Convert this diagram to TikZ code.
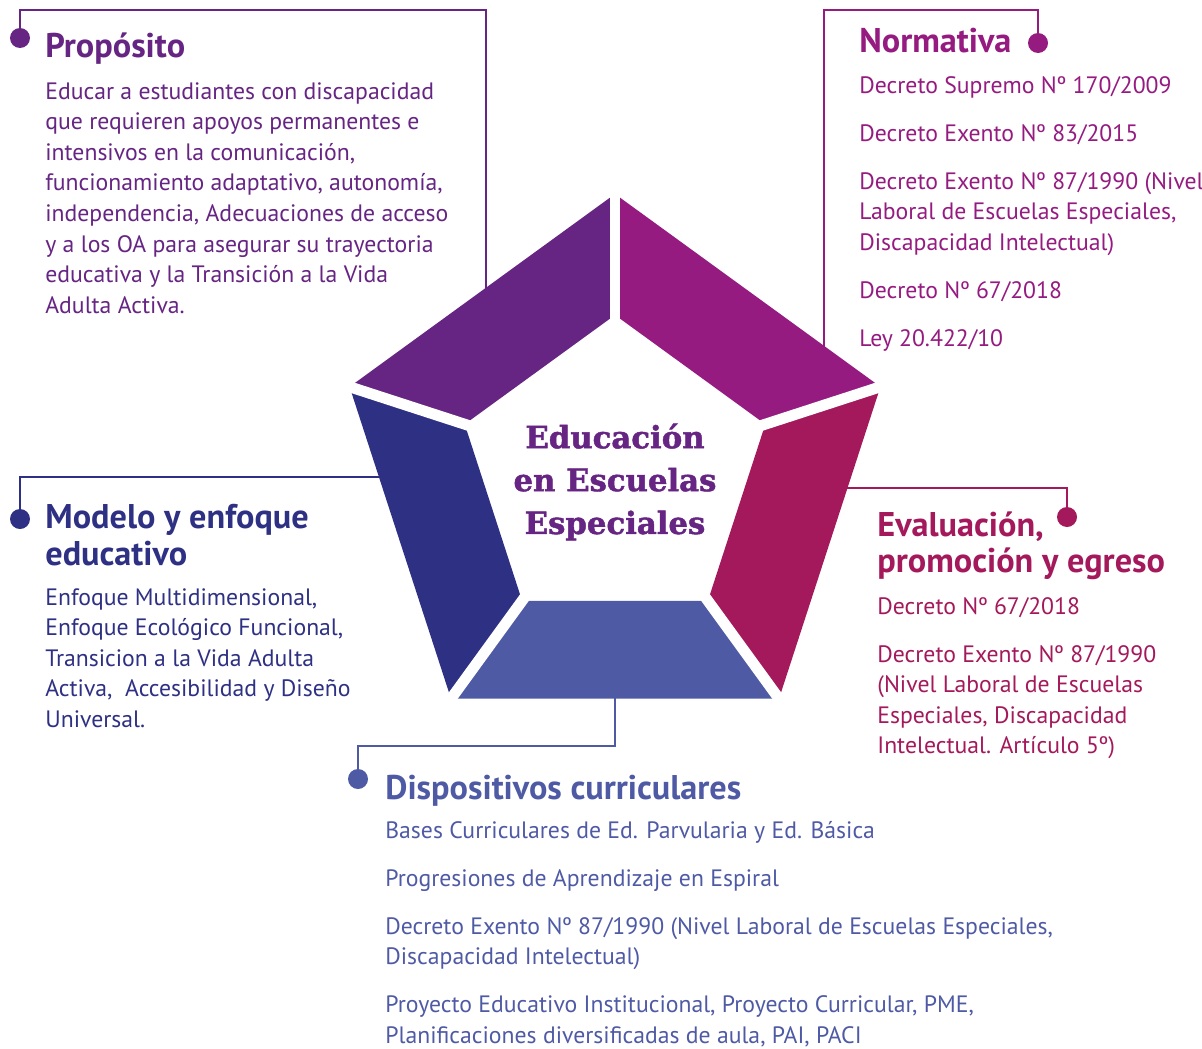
\documentclass[tikz,border=0pt]{standalone}
\usepackage{fontspec}
\setmainfont{PT Sans}
\newfontfamily\slab[FakeBold=1.5]{DejaVu Serif Bold}
\usetikzlibrary{calc}
\definecolor{cPro}{RGB}{102,36,131}
\definecolor{cNor}{RGB}{149,27,129}
\definecolor{cEva}{RGB}{163,25,91}
\definecolor{cMod}{RGB}{46,48,131}
\definecolor{cDis}{RGB}{79,90,165}
\begin{document}
\begin{tikzpicture}[x=0.02cm,y=-0.02cm,
  head/.style={font=\fontsize{19.5}{20.8}\selectfont\bfseries, anchor=north west, inner sep=0pt, align=left},
  body/.style={font=\fontsize{13.5}{17.4}\selectfont, anchor=north west, inner sep=0pt, align=left},
  conn/.style={line width=1.4pt},
  dotn/.style={circle, inner sep=0pt, minimum size=0.4cm},
  gap/.style={white, line width=6.2pt}]
\useasboundingbox (0,0) rectangle (1202,1048);
% pentagon vertices
\coordinate (O0) at (615,194);
\coordinate (O1) at (880.4,386.8);
\coordinate (O2) at (779.0,698.7);
\coordinate (O3) at (451.0,698.7);
\coordinate (O4) at (349.6,386.8);
\coordinate (I0) at (615,315);
\coordinate (I1) at (765.3,424.2);
\coordinate (I2) at (707.9,600.8);
\coordinate (I3) at (522.1,600.8);
\coordinate (I4) at (464.7,424.2);
% dots
\node[dotn, fill=cPro] (dPro) at (20,38) {};
\node[dotn, fill=cNor] (dNor) at (1038,43) {};
\node[dotn, fill=cMod] (dMod) at (20,519) {};
\node[dotn, fill=cEva] (dEva) at (1067,517) {};
\node[dotn, fill=cDis] (dDis) at (358,779) {};
\coordinate (ePro) at (486,300);
\coordinate (eNor) at (824,360);
\coordinate (eMod) at (395,477);
\coordinate (eEva) at (835,488);
\coordinate (eDis) at (615,690);
% connectors
\draw[conn, cPro] (dPro.center) |- (486,10) -- (ePro);
\draw[conn, cNor] (dNor.center) |- (824,10) -- (eNor);
\draw[conn, cMod] (dMod.center) |- (eMod);
\draw[conn, cEva] (dEva.center) |- (eEva);
\draw[conn, cDis] (dDis.center) |- (615,746) -- (eDis);
% pieces
\fill[cPro] (O4) -- (O0) -- (I0) -- (I4) -- cycle;
\fill[cNor] (O0) -- (O1) -- (I1) -- (I0) -- cycle;
\fill[cEva] (O1) -- (O2) -- (I2) -- (I1) -- cycle;
\fill[cDis] (O2) -- (O3) -- (I3) -- (I2) -- cycle;
\fill[cMod] (O3) -- (O4) -- (I4) -- (I3) -- cycle;
\foreach \i in {0,...,4}{
  \draw[gap] ($(I\i)!-0.2!(O\i)$) -- ($(I\i)!1.15!(O\i)$);
}
% center title
\node[font=\slab\fontsize{17.5}{24.4}\selectfont, text=cPro, align=center, inner sep=0pt] (title) at (615,482) {Educación\\en Escuelas\\Especiales};
% Proposito
\node[head, text=cPro] (hPro) at (45,32) {Propósito};
\node[body, text=cPro] (tPro) at (45,82) {Educar a estudiantes con discapacidad\\que requieren apoyos permanentes e\\intensivos en la comunicación,\\funcionamiento adaptativo, autonomía,\\independencia, Adecuaciones de acceso\\y a los OA para asegurar su trayectoria\\educativa y la Transición a la Vida\\Adulta Activa.};
% Normativa
\node[head, text=cNor] (hNor) at (859,28) {Normativa};
\node[body, text=cNor] (tNor) at (859,76) {Decreto Supremo Nº 170/2009\\[9.9pt]Decreto Exento Nº 83/2015\\[9.9pt]Decreto Exento Nº 87/1990 (Nivel\\Laboral de Escuelas Especiales,\\Discapacidad Intelectual)\\[9.9pt]Decreto Nº 67/2018\\[9.9pt]Ley 20.422/10};
% Modelo
\node[head, text=cMod] (hMod) at (45,504) {Modelo y enfoque\\educativo};
\node[body, text=cMod] (tMod) at (45,588) {Enfoque Multidimensional,\\Enfoque Ecológico Funcional,\\Transicion a la Vida Adulta\\Activa,\ \ Accesibilidad y Diseño\\Universal.};
% Evaluacion
\node[head, text=cEva] (hEva) at (877,511) {Evaluación,\\promoción y egreso};
\node[body, text=cEva] (tEva) at (877,597) {Decreto Nº 67/2018\\[9.9pt]Decreto Exento Nº 87/1990\\(Nivel Laboral de Escuelas\\Especiales, Discapacidad\\Intelectual. Artículo 5º)};
% Dispositivos
\node[head, text=cDis] (hDis) at (385,775) {Dispositivos curriculares};
\node[body, text=cDis] (tDis) at (385,821) {Bases Curriculares de Ed. Parvularia y Ed. Básica\\[9.9pt]Progresiones de Aprendizaje en Espiral\\[9.9pt]Decreto Exento Nº 87/1990 (Nivel Laboral de Escuelas Especiales,\\Discapacidad Intelectual)\\[9.9pt]Proyecto Educativo Institucional, Proyecto Curricular, PME,\\Planificaciones diversificadas de aula, PAI, PACI};
\end{tikzpicture}
\end{document}
